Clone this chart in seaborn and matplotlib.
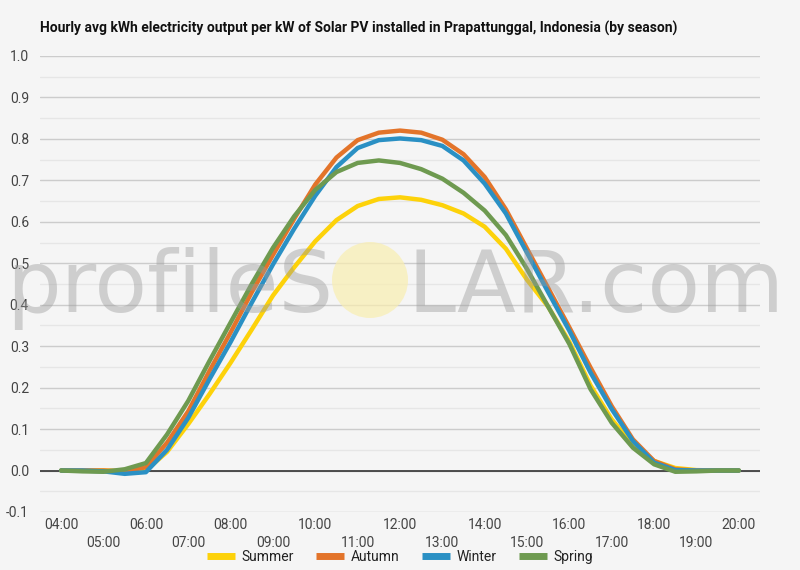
import numpy as np
import pandas as pd
import matplotlib
matplotlib.use("Agg")
import matplotlib.pyplot as plt
from matplotlib.lines import Line2D
from matplotlib.patches import Ellipse
import seaborn as sns

# half-hourly readings, 04:00 .. 20:00
times = [f"{h:02d}:{m:02d}" for h in range(4, 21) for m in (0, 30)][:-1]
summer = [0.000, 0.000, 0.000, -0.002, 0.000, 0.045, 0.112, 0.184, 0.260, 0.340, 0.422,
          0.490, 0.553, 0.604, 0.638, 0.655, 0.659, 0.653, 0.640, 0.620, 0.588, 0.535,
          0.460, 0.395, 0.310, 0.205, 0.123, 0.063, 0.023, 0.006, 0.001, 0.000, 0.000]
autumn = [0.000, 0.000, 0.000, -0.002, 0.008, 0.067, 0.143, 0.240, 0.333, 0.430, 0.520,
          0.607, 0.690, 0.755, 0.797, 0.815, 0.820, 0.815, 0.798, 0.763, 0.708, 0.630,
          0.535, 0.440, 0.345, 0.248, 0.155, 0.075, 0.023, 0.003, 0.000, 0.000, 0.000]
winter = [0.000, 0.000, -0.002, -0.008, -0.004, 0.050, 0.127, 0.220, 0.310, 0.405, 0.497,
          0.583, 0.663, 0.732, 0.778, 0.797, 0.801, 0.797, 0.783, 0.748, 0.692, 0.620,
          0.525, 0.430, 0.337, 0.236, 0.148, 0.071, 0.019, 0.001, 0.000, 0.000, 0.000]
spring = [0.000, -0.002, -0.003, 0.003, 0.018, 0.087, 0.168, 0.264, 0.357, 0.450, 0.537,
          0.613, 0.677, 0.720, 0.742, 0.748, 0.742, 0.727, 0.704, 0.670, 0.627, 0.568,
          0.486, 0.395, 0.305, 0.196, 0.115, 0.055, 0.015, -0.003, -0.002, 0.000, 0.000]

hour_labels = [f"{h:02d}:00" for h in range(4, 21)]
seasons = ["Summer", "Autumn", "Winter", "Spring"]
colors = ["#fdd20a", "#e3742a", "#2a90c4", "#6e9a50"]
y_ticks = [round(-0.1 + 0.1 * i, 1) for i in range(12)]

title = "Hourly avg kWh electricity output per kW of Solar PV installed in Prapattunggal, Indonesia (by season)"

if __name__ == "__main__":
    sns.set_style("white")
    plt.rcParams['font.family'] = ['Roboto', 'DejaVu Sans']

    hours = [int(t[:2]) + int(t[3:]) / 60 for t in times]
    df = pd.DataFrame({"hour": hours * 4,
                       "value": summer + autumn + winter + spring,
                       "season": np.repeat(seasons, len(times))})

    bg = "#f5f5f5"
    fig = plt.figure(figsize=(8, 5.7), dpi=100, facecolor=bg)
    ax = fig.add_axes([0.05, 0.1018, 0.90, 0.80])
    ax.set_facecolor(bg)

    sns.lineplot(data=df, x="hour", y="value", hue="season", hue_order=seasons,
                 palette=colors, linewidth=3.2, legend=False, ax=ax,
                 solid_joinstyle="round", solid_capstyle="round", zorder=3)

    ax.set_xlim(3.5, 20.5)
    ax.set_ylim(-0.1, 1.0)

    # gridlines
    ax.set_yticks(y_ticks)
    ax.set_yticklabels([f"{v:.1f}" for v in y_ticks])
    ax.set_yticks([v + 0.05 for v in y_ticks[:-1]], minor=True)
    ax.grid(axis="y", which="major", color="#cccccc", linewidth=1.0, zorder=0)
    ax.grid(axis="y", which="minor", color="#e6e6e6", linewidth=1.0, zorder=0)
    ax.grid(axis="x", visible=False)
    ax.axhline(0, color="#333333", linewidth=1.2, zorder=2)

    # staggered hour labels
    hrs = list(range(4, 21))
    ax.set_xticks(hrs[::2])
    ax.set_xticklabels(hour_labels[::2])
    ax.set_xticks(hrs[1::2], minor=True)
    ax.set_xticklabels(hour_labels[1::2], minor=True)
    ax.tick_params(axis="x", which="major", length=0, pad=4, labelsize=10, labelcolor="#444444")
    ax.tick_params(axis="x", which="minor", length=0, pad=17, labelsize=10, labelcolor="#444444")
    ax.tick_params(axis="y", which="both", length=0, pad=8, labelsize=10, labelcolor="#444444")
    for s in ax.spines.values():
        s.set_visible(False)
    ax.set_xlabel("")
    ax.set_ylabel("")

    fig.text(0.05, 1 - 28 / 570, title, fontsize=10, fontweight="bold",
             color="#111111", va="center", ha="left")

    # watermark
    wm = dict(fontsize=62, family="DejaVu Sans", color="#9a9a9a",
              alpha=0.42, va="baseline", zorder=10)
    fig.text(333 / 800, 1 - 312 / 570, "profileS", ha="right", **wm)
    fig.text(408 / 800, 1 - 312 / 570, "LAR.com", ha="left", **wm)
    fig.patches.append(Ellipse((370 / 800, 1 - 280 / 570), 76 / 800, 76 / 570,
                               transform=fig.transFigure, facecolor="#f9eeb0",
                               alpha=0.7, edgecolor="none", zorder=9))

    handles = [Line2D([0], [0], color=c, linewidth=5, solid_capstyle="butt") for c in colors]
    fig.legend(handles, seasons, loc="center", bbox_to_anchor=(0.5, 1 - 557 / 570),
               ncol=4, frameon=False, fontsize=10, handlelength=2.0,
               columnspacing=1.6, handletextpad=0.5, labelcolor="#222222")

    fig.savefig("out.png", dpi=100, facecolor=bg)
